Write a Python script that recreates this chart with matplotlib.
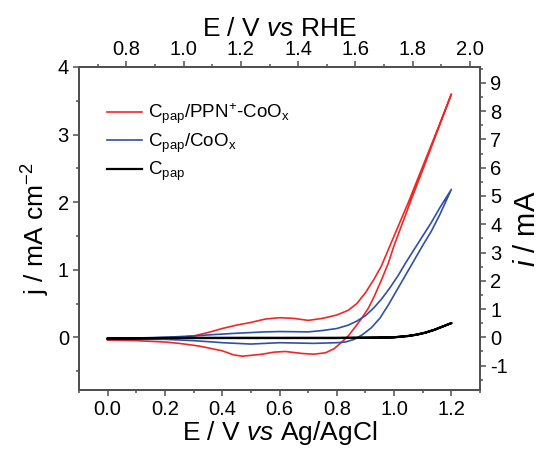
import numpy as np
import matplotlib
matplotlib.use('Agg')
import matplotlib.pyplot as plt
from matplotlib.ticker import MultipleLocator

plt.rcParams['font.family'] = ['Liberation Sans', 'DejaVu Sans']
plt.rcParams['mathtext.fontset'] = 'custom'
plt.rcParams['mathtext.rm'] = 'Liberation Sans'
plt.rcParams['mathtext.it'] = 'Liberation Sans:italic'
plt.rcParams['mathtext.bf'] = 'Liberation Sans:bold'
plt.rcParams['axes.unicode_minus'] = False

# CV curves (E vs Ag/AgCl in V, j in mA cm-2)
# Cpap/PPN+-CoOx
e_red_fwd = [0.00, 0.10, 0.20, 0.25, 0.30, 0.35, 0.40, 0.45, 0.50, 0.55, 0.60, 0.65,
             0.70, 0.75, 0.80, 0.84, 0.87, 0.90, 0.93, 0.955, 0.98, 1.00, 1.05, 1.10,
             1.15, 1.20]
j_red_fwd = [-0.04, -0.03, -0.01, 0.00, 0.02, 0.07, 0.13, 0.18, 0.22, 0.27, 0.29, 0.28,
             0.25, 0.28, 0.33, 0.40, 0.50, 0.66, 0.86, 1.05, 1.30, 1.50, 2.00, 2.53,
             3.06, 3.60]
e_red_rev = [1.20, 1.15, 1.10, 1.06, 1.03, 1.00, 0.98, 0.955, 0.93, 0.91, 0.885, 0.86,
             0.84, 0.815, 0.79, 0.76, 0.72, 0.68, 0.62, 0.58, 0.54, 0.47, 0.44, 0.40,
             0.32, 0.25, 0.20, 0.10, 0.00]
j_red_rev = [3.60, 3.04, 2.48, 2.04, 1.70, 1.36, 1.10, 0.84, 0.60, 0.43, 0.27, 0.13,
             0.02, -0.08, -0.17, -0.23, -0.25, -0.24, -0.21, -0.22, -0.25, -0.28, -0.26,
             -0.20, -0.13, -0.09, -0.07, -0.05, -0.04]

# Cpap/CoOx
e_blue_fwd = [0.00, 0.10, 0.20, 0.30, 0.37, 0.45, 0.55, 0.60, 0.70, 0.75, 0.80, 0.84,
              0.87, 0.90, 0.93, 0.955, 0.985, 1.015, 1.04, 1.07, 1.10, 1.13, 1.16, 1.20]
j_blue_fwd = [-0.02, -0.01, 0.00, 0.02, 0.04, 0.06, 0.08, 0.085, 0.08, 0.10, 0.13, 0.18,
              0.24, 0.32, 0.44, 0.56, 0.73, 0.92, 1.10, 1.30, 1.50, 1.70, 1.92, 2.19]
e_blue_rev = [1.20, 1.16, 1.13, 1.10, 1.07, 1.04, 1.01, 0.98, 0.95, 0.92, 0.89,
              0.861, 0.83, 0.80, 0.72, 0.60, 0.50, 0.40, 0.37, 0.30, 0.20, 0.10, 0.00]
j_blue_rev = [2.19, 1.82, 1.57, 1.36, 1.14, 0.92, 0.70, 0.48, 0.28, 0.14, 0.04,
              -0.03, -0.07, -0.08, -0.09, -0.08, -0.10, -0.08, -0.07, -0.05, -0.03, -0.03, -0.03]

# Cpap
e_black = [0.00, 0.20, 0.40, 0.60, 0.80, 0.95, 1.00, 1.05, 1.08, 1.11, 1.14, 1.17, 1.20]
j_black = [-0.02, -0.01, -0.01, -0.01, -0.01, -0.005, 0.00, 0.02, 0.04, 0.07, 0.11, 0.16, 0.21]

labels = [r'C$_\mathrm{pap}$/PPN$^\mathrm{+}$-CoO$_\mathrm{x}$',
          r'C$_\mathrm{pap}$/CoO$_\mathrm{x}$',
          r'C$_\mathrm{pap}$']
colors = ['#f52525', '#3050a8', 'black']

rhe_offset = 0.735   # E(RHE) - E(Ag/AgCl)
area = 2.391         # i / j, cm2
xlim = (-0.1, 1.3)
ylim = (-0.78, 4.0)

fig = plt.figure(figsize=(5.42, 4.49), dpi=100)
ax = fig.add_axes([0.1458, 0.1314, 0.7399, 0.7194])

ax.plot(e_red_fwd + e_red_rev, j_red_fwd + j_red_rev, color=colors[0], lw=1.2, label=labels[0])
ax.plot(e_blue_fwd + e_blue_rev, j_blue_fwd + j_blue_rev, color=colors[1], lw=1.2, label=labels[1])
ax.plot(e_black + e_black[::-1], j_black + j_black[::-1], color=colors[2], lw=1.6, label=labels[2])

ax.set_xlim(*xlim)
ax.set_ylim(*ylim)
ax.xaxis.set_major_locator(MultipleLocator(0.2))
ax.xaxis.set_minor_locator(MultipleLocator(0.1))
ax.yaxis.set_major_locator(MultipleLocator(1))
ax.yaxis.set_minor_locator(MultipleLocator(0.5))
ax.xaxis.set_major_formatter(plt.FuncFormatter(lambda v, p: f'{v:.1f}'))

# top axis: potential vs RHE
top = ax.twiny()
top.set_xlim(xlim[0] + rhe_offset, xlim[1] + rhe_offset)
top.xaxis.set_major_locator(MultipleLocator(0.2))
top.xaxis.set_minor_locator(MultipleLocator(0.1))
top.xaxis.set_major_formatter(plt.FuncFormatter(lambda v, p: f'{v:.1f}'))

# right axis: current in mA
right = ax.twinx()
right.set_ylim(ylim[0] * area, ylim[1] * area)
right.yaxis.set_major_locator(MultipleLocator(1))
right.yaxis.set_minor_locator(MultipleLocator(0.5))

spine_col = '#505050'
for a in (ax, top, right):
    for s in a.spines.values():
        s.set_color(spine_col)
        s.set_linewidth(1.2)
    a.tick_params(which='major', direction='out', length=4.3, width=1.1, color=spine_col,
                  labelsize=14.5, pad=3)
    a.tick_params(which='minor', direction='out', length=2.2, width=1.1, color=spine_col)
top.tick_params(which='major', pad=1.5)

ax.set_xlabel(r'E / V $\mathit{vs}$ Ag/AgCl', fontsize=19, labelpad=0)
ax.set_ylabel(r'j / mA cm$^\mathrm{-2}$', fontsize=19, labelpad=4)
top.set_xlabel(r'E / V $\mathit{vs}$ RHE', fontsize=19, labelpad=3)
fig.text(0.973, 0.49, r'$\mathit{i}$ / mA', fontsize=21, rotation=90, ha='center', va='center')

ax.legend(loc='upper left', bbox_to_anchor=(0.05, 0.917), frameon=False, fontsize=13.5,
          handlelength=1.9, handletextpad=0.3, labelspacing=0.28, borderaxespad=0)

fig.savefig('out.png', dpi=100)
